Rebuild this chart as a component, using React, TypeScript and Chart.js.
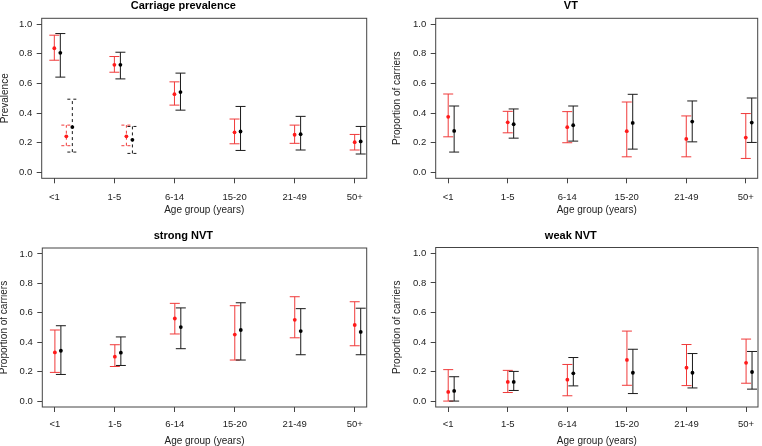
import React, { useEffect, useRef } from "react";
import { Chart, registerables } from "chart.js";

Chart.register(...registerables);

// ---------- data ----------
const ageGroups = ["<1", "1-5", "6-14", "15-20", "21-49", "50+"];
const yTickValues = [0, 0.2, 0.4, 0.6, 0.8, 1.0];

// x offsets (in category units) of each series relative to its age group
const obsOffset = 0;
const fitOffset = 0.1;
const obs2Offset = 0.2;
const fit2Offset = 0.3;

// Carriage prevalence
const prevObs = [0.838, 0.726, 0.528, 0.27, 0.254, 0.204];
const prevObsLo = [0.757, 0.676, 0.454, 0.193, 0.196, 0.151];
const prevObsHi = [0.926, 0.782, 0.611, 0.36, 0.319, 0.256];
const prevFit = [0.807, 0.726, 0.542, 0.276, 0.258, 0.209];
const prevFitLo = [0.643, 0.631, 0.42, 0.148, 0.151, 0.124];
const prevFitHi = [0.937, 0.811, 0.67, 0.445, 0.378, 0.31];
// second (dashed) estimates, first two age groups only
const prevObs2 = [0.243, 0.243];
const prevObs2Lo = [0.18, 0.18];
const prevObs2Hi = [0.319, 0.319];
const prevFit2 = [0.306, 0.22];
const prevFit2Lo = [0.137, 0.128];
const prevFit2Hi = [0.494, 0.31];

// VT
const vtObs = [0.375, 0.338, 0.305, 0.278, 0.226, 0.235];
const vtObsLo = [0.24, 0.267, 0.2, 0.105, 0.105, 0.094];
const vtObsHi = [0.529, 0.412, 0.41, 0.475, 0.381, 0.397];
const vtFit = [0.28, 0.325, 0.318, 0.334, 0.343, 0.336];
const vtFitLo = [0.137, 0.231, 0.211, 0.157, 0.206, 0.202];
const vtFitHi = [0.448, 0.428, 0.448, 0.527, 0.482, 0.502];

// strong NVT
const snObs = [0.331, 0.302, 0.561, 0.452, 0.552, 0.517];
const snObsLo = [0.195, 0.235, 0.456, 0.279, 0.43, 0.376];
const snObsHi = [0.483, 0.383, 0.664, 0.648, 0.709, 0.675];
const snFit = [0.342, 0.329, 0.503, 0.483, 0.476, 0.47];
const snFitLo = [0.181, 0.242, 0.356, 0.279, 0.315, 0.315];
const snFitHi = [0.512, 0.436, 0.633, 0.668, 0.628, 0.631];

// weak NVT
const wnObs = [0.062, 0.13, 0.145, 0.279, 0.226, 0.259];
const wnObsLo = [0.0, 0.058, 0.036, 0.107, 0.105, 0.121];
const wnObsHi = [0.213, 0.208, 0.248, 0.474, 0.383, 0.42];
const wnFit = [0.069, 0.13, 0.188, 0.192, 0.192, 0.197];
const wnFitLo = [0.0, 0.072, 0.103, 0.051, 0.089, 0.081];
const wnFitHi = [0.165, 0.201, 0.295, 0.351, 0.322, 0.336];

// ---------- styling ----------
const FONT = "'Liberation Sans', Arial, Helvetica, sans-serif";
const RED = "#ff1a1a";
const RED_BAR = "#f03a3a";
const BLACK = "#000000";
const BLACK_BAR = "#1a1a1a";
const AXIS = "#444444";
const TEXT = "#222222";

function series(values: number[], lo: number[], hi: number[], offset: number, color: string, bar: string, dash: number[] = []) {
  return {
    data: values.map((v, i) => ({ x: i + 1 + offset, y: v })),
    lo,
    hi,
    barColor: bar,
    dash,
    pointRadius: 1.9,
    pointBackgroundColor: color,
    pointBorderWidth: 0,
    showLine: false,
  };
}

const errorBarPlugin = {
  id: "errorBars",
  beforeDatasetsDraw(chart: any) {
    const ctx = chart.ctx;
    const yScale = chart.scales.y;
    chart.data.datasets.forEach((ds: any, di: number) => {
      const meta = chart.getDatasetMeta(di);
      ctx.save();
      ctx.strokeStyle = ds.barColor;
      ctx.lineWidth = 1;
      ctx.setLineDash(ds.dash || []);
      meta.data.forEach((el: any, i: number) => {
        const x = el.x;
        const yLo = yScale.getPixelForValue(ds.lo[i]);
        const yHi = yScale.getPixelForValue(ds.hi[i]);
        const w = 5;
        ctx.beginPath();
        ctx.moveTo(x, yLo);
        ctx.lineTo(x, yHi);
        ctx.moveTo(x - w, yLo);
        ctx.lineTo(x + w, yLo);
        ctx.moveTo(x - w, yHi);
        ctx.lineTo(x + w, yHi);
        ctx.stroke();
      });
      ctx.restore();
    });
  },
};

const boxPlugin = {
  id: "plotBox",
  afterDraw(chart: any) {
    const { left, top, right, bottom } = chart.chartArea;
    const ctx = chart.ctx;
    ctx.save();
    ctx.strokeStyle = AXIS;
    ctx.lineWidth = 1;
    ctx.strokeRect(left, top, right - left, bottom - top);
    ctx.restore();
  },
};

type PanelCfg = {
  title: string;
  yTitle: string;
  datasets: any[];
  left: number;
  top: number;
  area: { left: number; top: number; right: number; bottom: number };
  titleTop: number;
  yTitleCenter: number;
  xTickCenter: number;
  xTitleCenter: number;
};

const W = 381;
const H = 223;
const TICK_FONT = 9.5;
const AXIS_TITLE_FONT = 10;
const MAIN_TITLE_FONT = 11;

function Panel({ cfg }: { cfg: PanelCfg }) {
  const ref = useRef<HTMLCanvasElement>(null);
  useEffect(() => {
    const a = cfg.area;
    const titleLH = MAIN_TITLE_FONT * 1.2;
    const axisLH = AXIS_TITLE_FONT * 1.2;
    const tickLH = TICK_FONT * 1.2;
    const chart = new Chart(ref.current as HTMLCanvasElement, {
      type: "scatter",
      data: { datasets: cfg.datasets },
      plugins: [errorBarPlugin, boxPlugin],
      options: {
        responsive: false,
        animation: false,
        devicePixelRatio: 1,
        layout: { padding: { left: 0, right: W - a.right, top: 0, bottom: 0 } },
        plugins: {
          legend: { display: false },
          tooltip: { enabled: false },
          title: {
            display: true,
            text: cfg.title,
            color: "#000",
            font: { family: FONT, size: MAIN_TITLE_FONT, weight: "bold" },
            padding: { top: cfg.titleTop - titleLH / 2, bottom: a.top - (cfg.titleTop + titleLH / 2) },
          },
        },
        scales: {
          x: {
            type: "linear",
            min: 0.79,
            max: 6.2,
            afterBuildTicks: (s: any) => {
              s.ticks = ageGroups.map((_, i) => ({ value: i + 1 }));
            },
            afterFit: (s: any) => {
              s.height = H - a.bottom;
            },
            ticks: {
              autoSkip: false,
              maxRotation: 0,
              color: TEXT,
              font: { family: FONT, size: TICK_FONT },
              padding: cfg.xTickCenter - a.bottom - 5 - tickLH / 2,
              callback: (_v: any, i: number) => ageGroups[i],
            },
            grid: { drawOnChartArea: false, drawTicks: true, tickLength: 5, color: AXIS },
            border: { display: false },
            title: {
              display: true,
              text: "Age group (years)",
              color: TEXT,
              font: { family: FONT, size: AXIS_TITLE_FONT },
              padding: { top: 0, bottom: H - cfg.xTitleCenter - axisLH / 2 },
            },
          },
          y: {
            type: "linear",
            min: -0.04,
            max: 1.04,
            afterBuildTicks: (s: any) => {
              s.ticks = yTickValues.map((v) => ({ value: v }));
            },
            afterFit: (s: any) => {
              s.width = a.left;
            },
            ticks: {
              color: TEXT,
              font: { family: FONT, size: TICK_FONT },
              padding: 4.5,
              callback: (v: any) => Number(v).toFixed(1),
            },
            grid: { drawOnChartArea: false, drawTicks: true, tickLength: 5, color: AXIS },
            border: { display: false },
            title: {
              display: true,
              text: cfg.yTitle,
              color: TEXT,
              font: { family: FONT, size: AXIS_TITLE_FONT },
              padding: { top: cfg.yTitleCenter - axisLH / 2, bottom: 0 },
            },
          },
        },
      } as any,
    });
    return () => chart.destroy();
  }, [cfg]);
  return (
    <canvas
      ref={ref}
      width={W}
      height={H}
      style={{ position: "absolute", left: cfg.left, top: cfg.top, width: W, height: H, display: "block" }}
    />
  );
}

const panels: PanelCfg[] = [
  {
    title: "Carriage prevalence",
    yTitle: "Prevalence",
    datasets: [
      series(prevObs, prevObsLo, prevObsHi, obsOffset, RED, RED_BAR),
      series(prevFit, prevFitLo, prevFitHi, fitOffset, BLACK, BLACK_BAR),
      series(prevObs2, prevObs2Lo, prevObs2Hi, obs2Offset, RED, RED_BAR, [3, 3]),
      series(prevFit2, prevFit2Lo, prevFit2Hi, fit2Offset, BLACK, BLACK_BAR, [3, 3]),
    ],
    left: 0,
    top: 0,
    area: { left: 41.7, top: 18.3, right: 366.7, bottom: 178.3 },
    titleTop: 6,
    yTitleCenter: 5,
    xTickCenter: 197,
    xTitleCenter: 210.7,
  },
  {
    title: "VT",
    yTitle: "Proportion of carriers",
    datasets: [
      series(vtObs, vtObsLo, vtObsHi, obsOffset, RED, RED_BAR),
      series(vtFit, vtFitLo, vtFitHi, fitOffset, BLACK, BLACK_BAR),
    ],
    left: 381,
    top: 0,
    area: { left: 54.7, top: 18.3, right: 379.7, bottom: 178.3 },
    titleTop: 6,
    yTitleCenter: 16.5,
    xTickCenter: 197,
    xTitleCenter: 210.7,
  },
  {
    title: "strong NVT",
    yTitle: "Proportion of carriers",
    datasets: [
      series(snObs, snObsLo, snObsHi, obsOffset, RED, RED_BAR),
      series(snFit, snFitLo, snFitHi, fitOffset, BLACK, BLACK_BAR),
    ],
    left: 0,
    top: 223,
    area: { left: 42.3, top: 25, right: 366.7, bottom: 184 },
    titleTop: 13.3,
    yTitleCenter: 4.5,
    xTickCenter: 201.7,
    xTitleCenter: 218.3,
  },
  {
    title: "weak NVT",
    yTitle: "Proportion of carriers",
    datasets: [
      series(wnObs, wnObsLo, wnObsHi, obsOffset, RED, RED_BAR),
      series(wnFit, wnFitLo, wnFitHi, fitOffset, BLACK, BLACK_BAR),
    ],
    left: 381,
    top: 223,
    area: { left: 54.7, top: 24.5, right: 379.7, bottom: 184 },
    titleTop: 13.3,
    yTitleCenter: 16.6,
    xTickCenter: 201.7,
    xTitleCenter: 218.3,
  },
];

export default function App() {
  return (
    <div style={{ position: "fixed", left: 0, top: 0, width: 762, height: 446, background: "#fff", overflow: "hidden" }}>
      {panels.map((p, i) => (
        <Panel key={i} cfg={p} />
      ))}
    </div>
  );
}
